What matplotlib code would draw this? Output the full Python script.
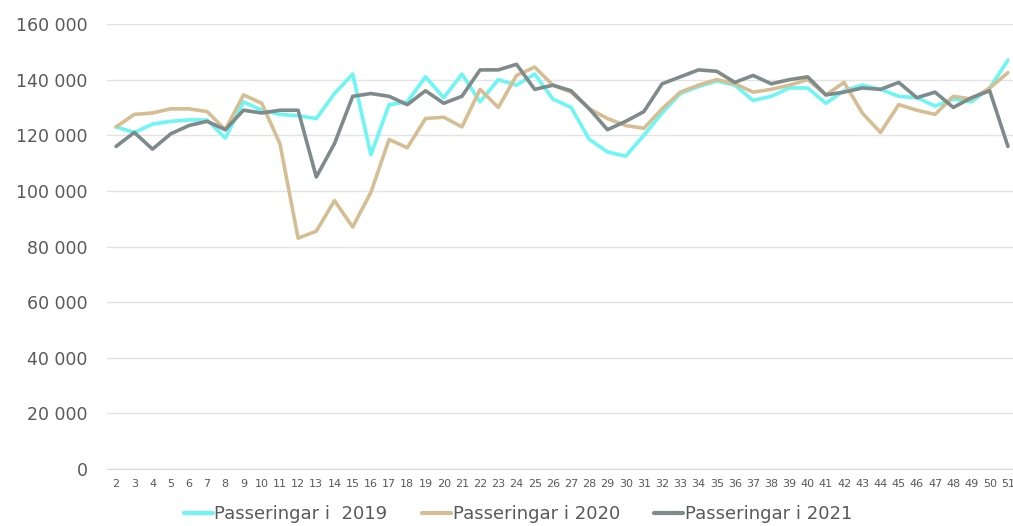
import matplotlib
matplotlib.use("Agg")
import matplotlib.pyplot as plt
from matplotlib.ticker import FuncFormatter, FixedLocator

weeks = list(range(2, 52))

pass_2019 = [123000, 121000, 124000, 125000, 125500, 125500, 119000, 132000, 129000, 127500,
             127000, 126000, 135000, 142000, 113000, 131000, 132000, 141000, 133500, 142000,
             132000, 140000, 138000, 142000, 133000, 130000, 118500, 114000, 112500, 120000,
             128000, 135000, 137500, 139500, 138000, 132500, 134000, 137000, 137000, 131500,
             136000, 138000, 136500, 134000, 133500, 130500, 133000, 132000, 137000, 147000]

pass_2020 = [123000, 127500, 128000, 129500, 129500, 128500, 122000, 134500, 131500, 117000,
             83000, 85500, 96500, 87000, 99500, 118500, 115500, 126000, 126500, 123000,
             136500, 130000, 141500, 144500, 138000, 135500, 129500, 126000, 123500, 122500,
             129500, 135500, 138000, 140000, 138500, 135500, 136500, 138000, 140000, 134500,
             139000, 128000, 121000, 131000, 129000, 127500, 134000, 133000, 137000, 142500]

pass_2021 = [116000, 121000, 115000, 120500, 123500, 125000, 122000, 129000, 128000, 129000,
             129000, 105000, 117000, 134000, 135000, 134000, 131000, 136000, 131500, 134000,
             143500, 143500, 145500, 136500, 138000, 136000, 129500, 122000, 125000, 128500,
             138500, 141000, 143500, 143000, 139000, 141500, 138500, 140000, 141000, 134500,
             135500, 137000, 136500, 139000, 133500, 135500, 130000, 133500, 136000, 116000]

series_labels = ["Passeringar i  2019", "Passeringar i 2020", "Passeringar i 2021"]
y_ticks = list(range(0, 160001, 20000))

colors = ["#6EF6F4", "#D5BE93", "#7E8B8A"]
text_color = "#595959"

fig = plt.figure(figsize=(10.13, 5.26), dpi=100)
ax = fig.add_axes([107 / 1013, 1 - 469 / 526, 910 / 1013, (469 - 24) / 526])

for vals, col, lab in zip([pass_2019, pass_2020, pass_2021], colors, series_labels):
    ax.plot(weeks, vals, color=col, lw=2.6, label=lab, solid_joinstyle="round", solid_capstyle="round")

ax.set_ylim(0, 160000)
ax.set_xlim(1.5, 51.5)
ax.yaxis.set_major_locator(FixedLocator(y_ticks))
ax.yaxis.set_major_formatter(FuncFormatter(lambda v, p: f"{int(v):,}".replace(",", " ")))
ax.set_xticks(weeks)
ax.set_xticklabels([str(w) for w in weeks])

ax.grid(axis="y", color="#E3E3E3", lw=1)
ax.set_axisbelow(True)
for s in ["top", "right", "left"]:
    ax.spines[s].set_visible(False)
ax.spines["bottom"].set_color("#D9D9D9")
ax.tick_params(axis="y", length=0, pad=14, labelsize=12.5, labelcolor=text_color)
ax.tick_params(axis="x", length=0, pad=7, labelsize=8, labelcolor=text_color)

leg = fig.legend(loc="lower center", bbox_to_anchor=(518 / 1013, -0.025), ncol=3, frameon=False,
                 fontsize=13, handlelength=1.6, handletextpad=0.1, columnspacing=1.9,
                 labelcolor=text_color)
for line in leg.get_lines():
    line.set_linewidth(3)

fig.savefig("out.png", dpi=100)
